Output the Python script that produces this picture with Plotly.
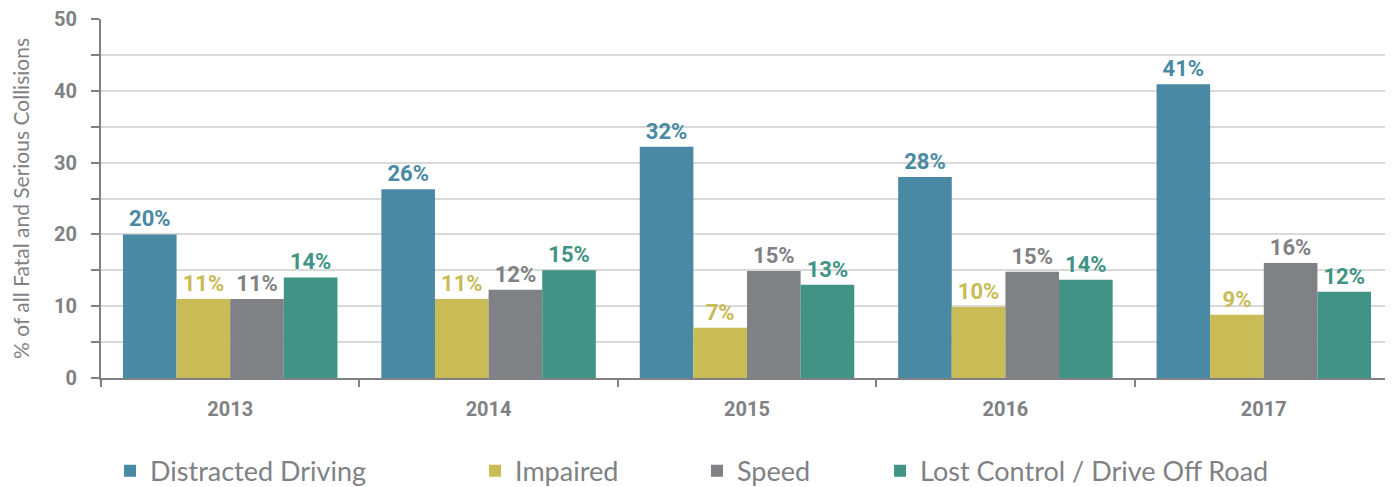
import plotly.graph_objects as go

years = ["2013", "2014", "2015", "2016", "2017"]
distracted = [20.0, 26.3, 32.2, 28.0, 40.9]
impaired = [11.0, 11.0, 7.0, 9.9, 8.8]
speed = [11.0, 12.3, 14.9, 14.8, 16.0]
lost_control = [14.0, 15.0, 13.0, 13.7, 12.0]

series = [
    ("Distracted Driving", distracted, "#4a89a3", "legend", 0.0070),
    ("Impaired", impaired, "#c9bb56", "legend2", 0.2895),
    ("Speed", speed, "#808184", "legend3", 0.4613),
    ("Lost Control / Drive Off Road", lost_control, "#409385", "legend4", 0.6030),
]

axis_gray = "#808184"
fig = go.Figure()
for name, vals, color, leg, _ in series:
    fig.add_trace(go.Bar(
        x=years, y=vals, name=name, legend=leg,
        marker=dict(color=color, line=dict(width=0)),
        texttemplate="%{y:.0f}%", textposition="outside",
        textfont=dict(family="Roboto", size=22, color=color, weight="bold"),
        cliponaxis=False, constraintext="none",
    ))

layout_legends = {}
for name, vals, color, leg, lx in series:
    layout_legends[leg] = dict(
        x=lx, xanchor="left", y=-0.2595, yanchor="middle",
        orientation="h", bgcolor="rgba(0,0,0,0)",
        font=dict(family="Lato", size=27, color=axis_gray),
    )

fig.update_layout(
    width=1385, height=479,
    margin=dict(l=93, r=0, t=11, b=109, autoexpand=False),
    paper_bgcolor="white", plot_bgcolor="white",
    barmode="group", bargap=0.17, bargroupgap=0,
    showlegend=True,
    **layout_legends,
)

fig.update_xaxes(
    type="category", tickson="boundaries",
    ticks="outside", ticklen=7, tickcolor=axis_gray, tickwidth=1.5,
    showline=True, linecolor=axis_gray, linewidth=2,
    showgrid=False,
    tickfont=dict(family="Roboto", size=20, color=axis_gray, weight="bold"),
    ticklabelstandoff=12,
)
fig.update_yaxes(
    range=[0, 50], dtick=10, tick0=0,
    ticks="outside", ticklen=8, tickcolor=axis_gray, tickwidth=1.5,
    showline=True, linecolor=axis_gray, linewidth=2,
    showgrid=True, gridcolor="#d9d9d9", gridwidth=1.5,
    zeroline=False,
    minor=dict(dtick=5, ticks="outside", ticklen=8, tickcolor=axis_gray,
               showgrid=True, gridcolor="#d9d9d9", gridwidth=1.5),
    tickfont=dict(family="Roboto", size=20, color=axis_gray, weight="bold"),
    ticklabelstandoff=10, ticklabeloverflow="allow",
    title=dict(text="% of all Fatal and Serious Collisions",
               font=dict(family="Lato", size=21, color=axis_gray), standoff=20),
)

fig.write_html("out.html")
